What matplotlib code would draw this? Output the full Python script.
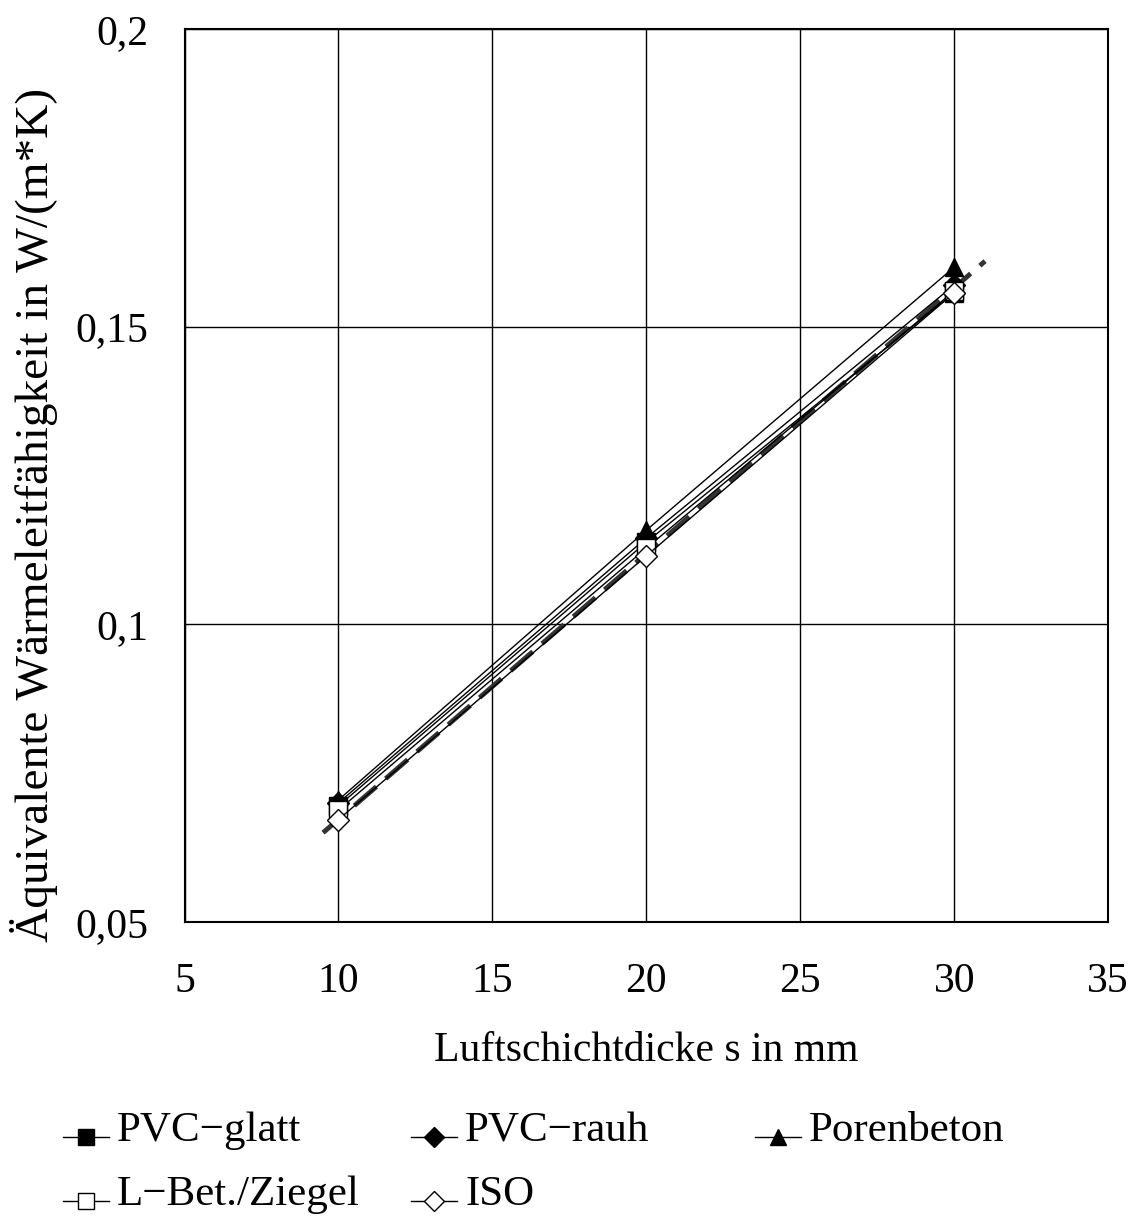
import numpy as np
import matplotlib.pyplot as plt
from matplotlib.lines import Line2D
from matplotlib.ticker import FuncFormatter

plt.rcParams['font.family'] = ['Liberation Serif', 'DejaVu Serif']

# Luftschichtdicke in mm
x = [10, 20, 30]

# equivalent conductivity W/(m*K)
pvc_glatt = [0.0695, 0.1138, 0.1557]
pvc_rauh = [0.0700, 0.1145, 0.1570]
porenbeton = [0.0705, 0.1158, 0.1600]
lbet_ziegel = [0.0688, 0.1128, 0.1560]
iso = [0.0672, 0.1115, 0.1557]

# dashed trend line of ISO (extended)
iso_trend_x = [9.5, 31.0]
iso_trend_y = [0.0650, 0.1610]

x_ticks = [5, 10, 15, 20, 25, 30, 35]
y_ticks = [0.05, 0.1, 0.15, 0.2]

fig = plt.figure(figsize=(11.32, 12.27), dpi=100)
ax = fig.add_axes([0.163, 0.2486, 0.816, 0.7278])

ax.plot(iso_trend_x, iso_trend_y, color='#333333', lw=3.5, ls=(0, (6, 2.5)), zorder=2)

series = [
    (pvc_glatt, 's', 'k', 'PVC\u2212glatt'),
    (pvc_rauh, 'D', 'k', 'PVC\u2212rauh'),
    (porenbeton, '^', 'k', 'Porenbeton'),
    (lbet_ziegel, 's', 'w', 'L\u2212Bet./Ziegel'),
    (iso, 'D', 'w', 'ISO'),
]
for vals, mk, fc, lab in series:
    ax.plot(x, vals, color='k', lw=1.0, marker=mk, markersize=13 if mk != 'D' else 11,
            markerfacecolor=fc, markeredgecolor='k', zorder=3)

ax.set_xlim(5, 35)
ax.set_ylim(0.05, 0.2)
ax.set_xticks(x_ticks)
ax.set_yticks(y_ticks)
ax.yaxis.set_major_formatter(FuncFormatter(lambda v, p: ('%g' % v).replace('.', ',')))
ax.grid(True, color='k', lw=1.0)
ax.tick_params(length=0, labelsize=30)
ax.tick_params(axis='x', pad=29)
ax.tick_params(axis='y', pad=26)
for s in ax.spines.values():
    s.set_linewidth(1.5)

ax.set_xlabel('Luftschichtdicke s in mm', fontsize=30, labelpad=22)
ax.set_ylabel('\u00c4quivalente W\u00e4rmeleitf\u00e4higkeit in W/(m*K)', fontsize=34)
ax.yaxis.set_label_coords(-0.137, 0.456)

# legend, placed by hand in figure coordinates
W, H = 1132.0, 1227.0
legend_pos = [(86, 1137), (434, 1137), (778, 1137), (86, 1201), (434, 1201)]
for (vals, mk, fc, lab), (px, py) in zip(series, legend_pos):
    fx, fy = px / W, 1 - py / H
    fig.add_artist(Line2D([fx - 23 / W, fx + 23 / W], [fy, fy], color='k', lw=1.0,
                          transform=fig.transFigure))
    fig.add_artist(Line2D([fx], [fy], marker=mk, markersize=11 if mk != 'D' else 10,
                          markerfacecolor=fc, markeredgecolor='k', color='k',
                          transform=fig.transFigure))
    fig.text(fx + 31 / W, fy + 6 / H, lab, fontsize=31, va='center', ha='left')

fig.savefig('out.png', dpi=100)
